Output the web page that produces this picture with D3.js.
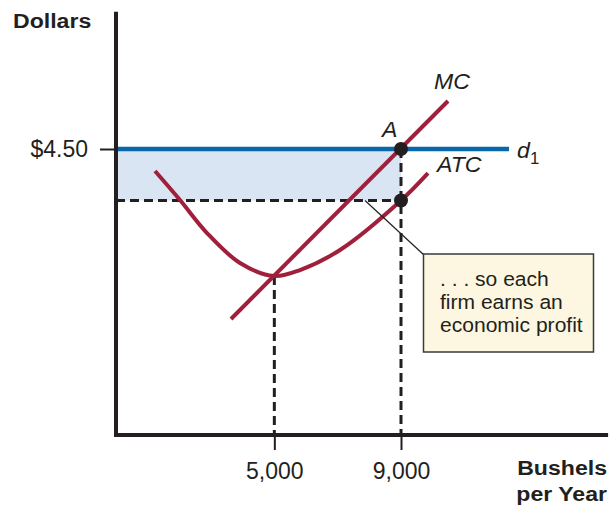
<!DOCTYPE html>
<html><head><meta charset="utf-8">
<script src="https://cdn.jsdelivr.net/npm/d3@7"></script>
<style>
body{margin:0;background:#fff;}
text{font-family:"Liberation Sans",Arial,Helvetica,sans-serif;fill:#231f20;}
</style></head>
<body><svg id="c" width="612" height="510"></svg>
<script>
// ---- data ----
const xTicks = [5000, 9000];
const yTicks = [4.5];
const yTickLabels = ["$4.50"];
const price = 4.5;
const qProfit = 9000;
const qMinATC = 5000;
const mcQ = [3632, 5000, 9000, 10484];
const mcP = [1.825, 2.50, 4.50, 5.255];
const atcQ = [1232, 2021, 2874, 3916, 5000, 5811, 7074, 9000, 9853];
const atcP = [4.154, 3.697, 3.178, 2.706, 2.502, 2.596, 2.911, 3.69, 4.12];
const demandQ = [0, 12410];
const noteLines = [". . . so each", "firm earns an", "economic profit"];

// ---- scales ----
const svg = d3.select("#c");
const x = d3.scaleLinear().domain([0, 9000]).range([116, 401]);
const y = d3.scaleLinear().domain([0, 4.5]).range([435, 149]);
const xMax = 15540, yMax = 6.66;
const ink = "#231f20", red = "#a01f3b", blue = "#0767aa";

const atcData = atcQ.map((q, i) => [q, atcP[i]]);
const mcData = mcQ.map((q, i) => [q, mcP[i]]);
const atcAt9000 = atcP[atcQ.indexOf(qProfit)];
const atcMin = atcP[atcQ.indexOf(qMinATC)];

function label(px, py, str, o = {}) {
  return svg.append("text")
    .attr("transform", `translate(${px},${py}) scale(${o.sx || 1.1},1)`)
    .attr("font-size", o.size || 20)
    .attr("text-anchor", o.anchor || "start")
    .attr("font-weight", o.bold ? "bold" : null)
    .attr("font-style", o.italic ? "italic" : null)
    .text(str);
}

// profit rectangle
svg.append("rect")
  .attr("x", x(0)).attr("y", y(price))
  .attr("width", x(qProfit) - x(0)).attr("height", y(atcAt9000) - y(price))
  .attr("fill", "#dae5f3");

// dashed guides
const dash = "9,5";
const guides = [
  [[0, atcAt9000], [qProfit, atcAt9000]],
  [[qMinATC, atcMin], [qMinATC, 0]],
  [[qProfit, price], [qProfit, 0]]
];
const line = d3.line().x(d => x(d[0])).y(d => y(d[1]));
guides.forEach(g => svg.append("path").attr("d", line(g))
  .attr("stroke", ink).attr("stroke-width", 3).attr("stroke-dasharray", dash).attr("fill", "none"));

// demand line d1
svg.append("path").attr("d", line(demandQ.map(q => [q, price])))
  .attr("stroke", blue).attr("stroke-width", 4.5).attr("fill", "none");

// ATC
svg.append("path").attr("d", d3.line().x(d => x(d[0])).y(d => y(d[1])).curve(d3.curveCatmullRom.alpha(0.5))(atcData))
  .attr("stroke", red).attr("stroke-width", 4).attr("fill", "none");
// MC
svg.append("path").attr("d", line([mcData[0], mcData[mcData.length - 1]]))
  .attr("stroke", red).attr("stroke-width", 4).attr("fill", "none");

// axes
const xAxis = d3.axisBottom(x).tickValues(xTicks).tickFormat(d3.format(",")).tickSizeInner(15).tickSizeOuter(0).tickPadding(13);
const gx = svg.append("g").attr("transform", `translate(0,${y(0)})`).call(xAxis);
gx.select(".domain").remove();
gx.selectAll(".tick line").attr("stroke", ink).attr("stroke-width", 2);
gx.selectAll(".tick text").attr("font-size", 23).attr("fill", ink)
  .attr("font-family", "Liberation Sans, Arial, sans-serif");

const yAxis = d3.axisLeft(y).tickValues(yTicks).tickFormat((d, i) => yTickLabels[i]).tickSizeInner(16).tickSizeOuter(0).tickPadding(12);
const gy = svg.append("g").attr("transform", `translate(${x(0)},0)`).call(yAxis);
gy.select(".domain").remove();
gy.selectAll(".tick line").attr("stroke", ink).attr("stroke-width", 2);
gy.selectAll(".tick text").attr("font-size", 23).attr("fill", ink)
  .attr("font-family", "Liberation Sans, Arial, sans-serif");

svg.append("line").attr("x1", x(0)).attr("x2", x(0)).attr("y1", y(yMax)).attr("y2", y(0) + 2)
  .attr("stroke", ink).attr("stroke-width", 4);
svg.append("line").attr("x1", x(0) - 2).attr("x2", x(xMax)).attr("y1", y(0)).attr("y2", y(0))
  .attr("stroke", ink).attr("stroke-width", 4);

// points
[[qProfit, price], [qProfit, atcAt9000]].forEach(p =>
  svg.append("circle").attr("cx", x(p[0])).attr("cy", y(p[1])).attr("r", 7).attr("fill", ink));

// pointer line and note box
svg.append("line").attr("x1", 365).attr("y1", y(atcAt9000)).attr("x2", 424).attr("y2", 255)
  .attr("stroke", ink).attr("stroke-width", 1.2);
svg.append("rect").attr("x", 423.5).attr("y", 254).attr("width", 170).attr("height", 98)
  .attr("fill", "#fdf7e1").attr("stroke", "#3a3a3a").attr("stroke-width", 1.5);
noteLines.forEach((s, i) => label(440, 286 + i * 23, s, { size: 19.5, sx: 1.08 }));

// curve labels
label(434, 89, "MC", { italic: true, size: 22, sx: 1.05 });
label(382, 137, "A", { italic: true, size: 22, sx: 1.05 });
label(437, 172, "ATC", { italic: true, size: 22, sx: 1.05 });
label(517, 158, "d", { italic: true, size: 22, sx: 1.05 });
label(530, 164, "1", { size: 16, sx: 1.05 });

// axis titles
label(13, 28, "Dollars", { bold: true, size: 21 });
label(607, 475, "Bushels", { bold: true, size: 21, anchor: "end" });
label(607, 501, "per Year", { bold: true, size: 21, anchor: "end" });
</script></body></html>
